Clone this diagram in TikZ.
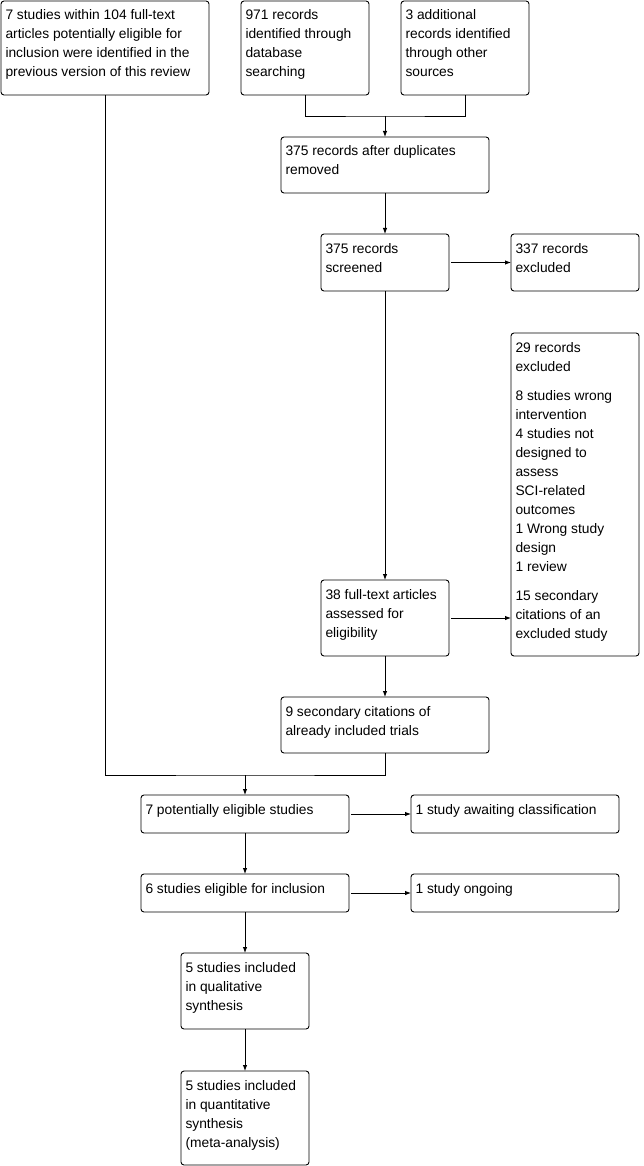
\documentclass[tikz,border=0pt]{standalone}
\usepackage{fontspec}
\setmainfont{Liberation Sans}
\usetikzlibrary{arrows.meta}

\newcommand{\flowtext}[3]{\parbox[c][\dimexpr#2-11.4pt\relax][t]{\dimexpr#1-9pt\relax}{\raggedright\strut#3}}

\begin{document}
\begin{tikzpicture}[x=1pt,y=-1pt,>={Latex[length=6pt,width=4.5pt]},line width=0.9pt,box/.style={draw, rounded corners=3pt, anchor=north west, inner xsep=4.5pt, inner ysep=5.7pt, outer sep=0pt, font={\fontsize{13.8pt}{19pt}\selectfont}},link/.style={->, shorten <=2pt}]
\useasboundingbox (0,0) rectangle (644,1166);
% top row
\node[box] (prev) at (1,1) {\flowtext{208pt}{94pt}{7 studies within 104 full-text\\articles potentially eligible for\\inclusion were identified in the\\previous version of this review}};
\node[box] (dbsearch) at (241,1) {\flowtext{128pt}{94pt}{971 records\\identified through\\database\\searching}};
\node[box] (othersrc) at (401,1) {\flowtext{128pt}{94pt}{3 additional\\records identified\\through other\\sources}};
\node[box] (dedup) at (281,137) {\flowtext{208pt}{56pt}{375 records after duplicates\\removed}};
% screening
\node[box] (screen) at (321,234) {\flowtext{128pt}{57pt}{375 records\\screened}};
\node[box] (exclscreen) at (511,234) {\flowtext{128pt}{57pt}{337 records\\excluded}};
\node[box] (exclfull) at (511,333) {\flowtext{128pt}{323pt}{29 records\\excluded\\[10pt]8 studies wrong\\intervention\\4 studies not\\designed to\\assess\\SCI-related\\outcomes\\1 Wrong study\\design\\1 review\\[10pt]15 secondary\\citations of an\\excluded study}};
\node[box] (fulltext) at (321,580) {\flowtext{128pt}{76pt}{38 full-text articles\\assessed for\\eligibility}};
\node[box] (secondary) at (281,697) {\flowtext{208pt}{56pt}{9 secondary citations of\\already included trials}};
% included
\node[box] (potential) at (141,795) {\flowtext{208pt}{38pt}{7 potentially eligible studies}};
\node[box] (awaiting) at (411,795) {\flowtext{208pt}{38pt}{1 study awaiting classification}};
\node[box] (eligible) at (141,874) {\flowtext{208pt}{38pt}{6 studies eligible for inclusion}};
\node[box] (ongoing) at (411,874) {\flowtext{208pt}{38pt}{1 study ongoing}};
\node[box] (qual) at (181,953) {\flowtext{128pt}{76pt}{5 studies included\\in qualitative\\synthesis}};
\node[box] (quant) at (181,1071) {\flowtext{128pt}{94pt}{5 studies included\\in quantitative\\synthesis\\(meta-analysis)}};
% connectors
\coordinate (merge) at (385,116);
\coordinate (join) at (245,775);
\draw (dbsearch.south) |- (merge) -| (othersrc.south);
\draw[->] (merge) -- (dedup.north);
\draw[->] (dedup) -- (screen);
\draw[link] (screen) -- (exclscreen);
\draw[->] (screen) -- (fulltext);
\draw[link] (fulltext) -- (exclfull.west |- fulltext);
\draw[->] (fulltext) -- (secondary);
\draw (prev.south) |- (join) -| (secondary.south);
\draw[->] (join) -- (potential.north);
\draw[link] (potential) -- (awaiting);
\draw[->] (potential) -- (eligible);
\draw[link] (eligible) -- (ongoing);
\draw[->] (eligible) -- (qual);
\draw[->] (qual) -- (quant);
\end{tikzpicture}
\end{document}
